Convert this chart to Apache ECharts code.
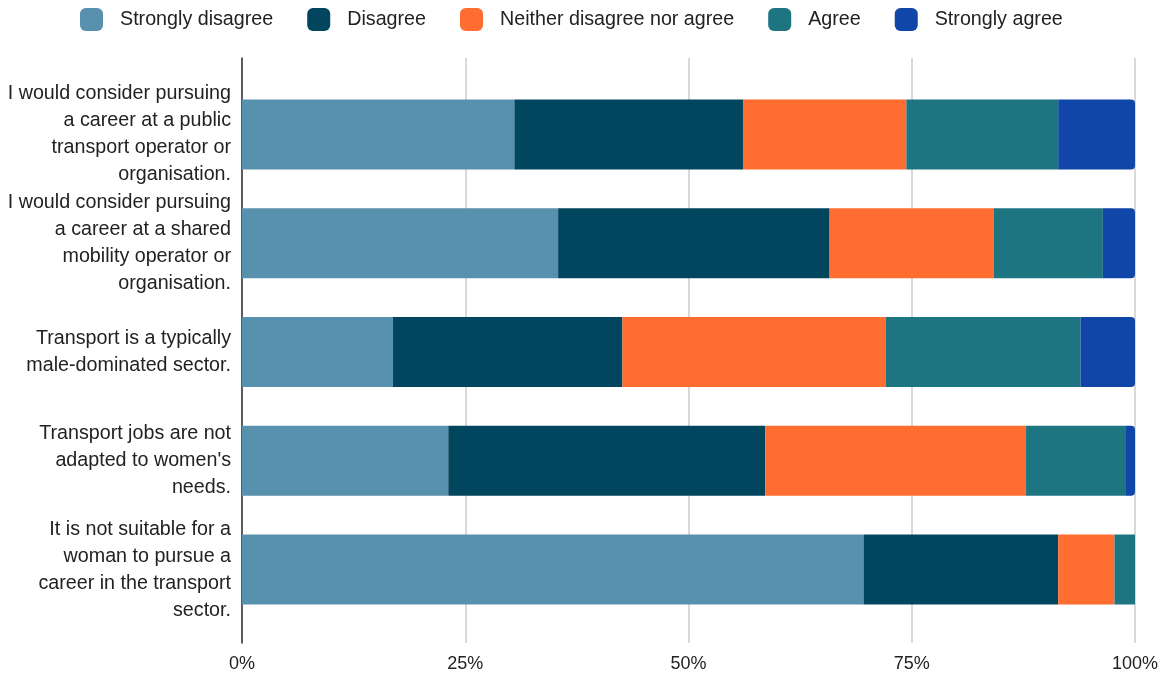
<!DOCTYPE html>
<html>
<head>
<meta charset="utf-8">
<script src="https://cdn.jsdelivr.net/npm/echarts@6/dist/echarts.min.js"></script>
<style>html,body{margin:0;padding:0;background:#fff}#c{width:1171px;height:680px}</style>
</head>
<body>
<div id="c"></div>
<script>
const categories = [
  "I would consider pursuing\na career at a public\ntransport operator or\norganisation.",
  "I would consider pursuing\na career at a shared\nmobility operator or\norganisation.",
  "Transport is a typically\nmale-dominated sector.",
  "Transport jobs are not\nadapted to women's\nneeds.",
  "It is not suitable for a\nwoman to pursue a\ncareer in the transport\nsector."
];
const seriesNames = ["Strongly disagree", "Disagree", "Neither disagree nor agree", "Agree", "Strongly agree"];
const stronglyDisagree = [30.5, 35.4, 16.9, 23.1, 69.6];
const disagree = [25.6, 30.4, 25.7, 35.5, 21.8];
const neither = [18.3, 18.4, 29.5, 29.2, 6.3];
const agree = [17.0, 12.2, 21.8, 11.1, 2.3];
const stronglyAgree = [8.6, 3.6, 6.1, 1.1, 0];
const xTicks = [0, 25, 50, 75, 100];

const colors = ["#5891AE", "#02455F", "#FF6D31", "#1E7582", "#0F46A7"];
const values = [stronglyDisagree, disagree, neither, agree, stronglyAgree];
const FONT = "'Liberation Sans', Arial, sans-serif";

const chart = echarts.init(document.getElementById('c'), null, {renderer: 'canvas'});
const series = seriesNames.map((name, i) => ({
  name: name,
  type: 'bar',
  stack: 'total',
  xAxisIndex: 0,
  yAxisIndex: 0,
  barWidth: 70,
  data: values[i],
  itemStyle: {
    color: colors[i],
    borderRadius: i === 4 ? [0, 4, 4, 0] : 0
  },
  emphasis: {disabled: true}
}));

chart.setOption({
  animation: false,
  textStyle: {fontFamily: FONT},
  legend: {
    data: seriesNames,
    top: 8,
    left: 80,
    padding: 0,
    icon: 'roundRect',
    itemWidth: 23,
    itemHeight: 23,
    itemGap: 34,
    textStyle: {fontSize: 19.7, color: '#222', fontFamily: FONT, padding: [0, 0, 0, 12]}
  },
  grid: [
    {left: 242, right: 36, top: 80, bottom: 56},
    {left: 242, right: 36, top: 58, bottom: 37}
  ],
  xAxis: [
    {
      gridIndex: 0, type: 'value', min: 0, max: 100,
      axisLabel: {show: false}, splitLine: {show: false},
      axisLine: {show: false}, axisTick: {show: false}
    },
    {
      gridIndex: 1, type: 'value', min: 0, max: 100, interval: 25,
      axisLabel: {
        fontSize: 18, color: '#222', margin: 12, fontFamily: FONT,
        formatter: v => xTicks.includes(v) ? v + '%' : ''
      },
      splitLine: {show: true, lineStyle: {color: '#cccccc', width: 1.5}},
      axisLine: {show: false}, axisTick: {show: false}
    }
  ],
  yAxis: [
    {
      gridIndex: 0, type: 'category', data: categories, inverse: true,
      axisLine: {show: false}, axisTick: {show: false},
      axisLabel: {fontSize: 19.7, lineHeight: 27, color: '#222', margin: 11, align: 'right', fontFamily: FONT}
    },
    {
      gridIndex: 1, type: 'category', data: [''],
      axisLine: {show: true, onZero: false, lineStyle: {color: '#333', width: 1.5}},
      axisTick: {show: false}, axisLabel: {show: false}, splitLine: {show: false}
    }
  ],
  series: series
});
</script>
</body>
</html>
